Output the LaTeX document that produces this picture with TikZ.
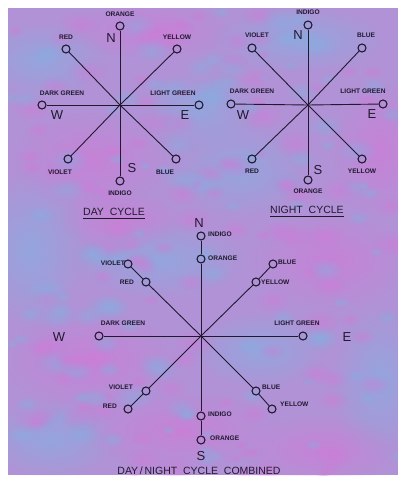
\documentclass[tikz,border=0pt]{standalone}
\usepackage{fontspec}
\setsansfont{Liberation Sans}
\usetikzlibrary{fadings}
\definecolor{ink}{RGB}{32,26,48}
\definecolor{lilac}{RGB}{178,146,214}
\definecolor{pinkish}{RGB}{212,120,214}
\definecolor{bluish}{RGB}{128,178,226}
\tikzfading[name=blotfade,inner color=transparent!0,outer color=transparent!100]

\begin{document}
\begin{tikzpicture}[x=1pt,y=-1pt,font=\sffamily]
  \tikzset{
    dot/.style={circle,draw=ink,line width=1.1pt,inner sep=0pt,minimum size=8pt},
    lbl/.style={text=ink,inner sep=0pt,font=\sffamily\bfseries\fontsize{6.6}{7}\selectfont},
    pole/.style={text=ink,inner sep=0pt,font=\sffamily\fontsize{13}{14}\selectfont},
    ttl/.style={text=ink,inner sep=0pt,font=\sffamily\fontsize{10.5}{12}\selectfont},
    leg/.style={draw=ink,line width=0.9pt},
    blot/.style={path fading=blotfade,opacity=0.6}
  }
  \useasboundingbox (0,0) rectangle (403,477);
  \fill[white] (0,0) rectangle (403,477);
  % mottled paper
  \fill[lilac] (8,8) rectangle (398,475);
  \begin{scope}
    \clip (8,8) rectangle (398,475);
    \foreach \px/\py/\rx/\ry/\col in {
        40/60/70/40/bluish, 150/30/80/30/pinkish, 300/40/90/35/bluish,
        380/150/50/70/pinkish, 90/160/80/50/pinkish, 240/170/70/50/bluish,
        30/250/60/80/bluish, 160/260/90/40/bluish, 330/260/80/50/pinkish,
        90/360/90/50/pinkish, 260/350/70/40/bluish, 380/380/50/80/bluish,
        50/440/70/40/bluish, 180/430/100/40/pinkish, 320/450/80/35/pinkish,
        200/110/60/40/bluish, 120/220/60/30/pinkish}
      \fill[\col,blot] (\px,\py) ellipse [x radius=\rx pt,y radius=\ry pt];
    \pgfmathsetseed{7}
    \foreach \k in {1,...,220} {
      \pgfmathsetmacro\px{8+390*rnd}
      \pgfmathsetmacro\py{8+467*rnd}
      \pgfmathsetmacro\rr{4+10*rnd}
      \pgfmathsetmacro\pick{rnd}
      \ifdim\pick pt<0.5pt \def\col{pinkish}\else\def\col{bluish}\fi
      \fill[\col,path fading=blotfade,opacity=0.45] (\px,\py) ellipse [x radius=1.6*\rr pt,y radius=\rr pt];
    }
  \end{scope}

  % day cycle
  \coordinate (dc) at (120,105);
  \node[dot] (dn)  at (120,26)  {};
  \node[dot] (dnw) at (66,49)   {};
  \node[dot] (dne) at (177,49)  {};
  \node[dot] (dw)  at (42,105)  {};
  \node[dot] (de)  at (199,105) {};
  \node[dot] (dsw) at (68,159)  {};
  \node[dot] (dse) at (176,159) {};
  \node[dot] (ds)  at (120,181) {};
  \node[lbl] (dnl)  at (120,14)  {ORANGE};
  \node[lbl] (dnwl) at (66,37)   {RED};
  \node[lbl] (dnel) at (177,37)  {YELLOW};
  \node[lbl] (dwl)  at (62,93)   {DARK GREEN};
  \node[lbl] (del)  at (173,93)  {LIGHT GREEN};
  \node[lbl] (dswl) at (60,172)  {VIOLET};
  \node[lbl] (dsel) at (165,172) {BLUE};
  \node[lbl] (dsl)  at (120,193) {INDIGO};
  \node[pole] (dN) at (111,38)  {N};
  \node[pole] (dW) at (57,115)  {W};
  \node[pole] (dE) at (185,115) {E};
  \node[pole] (dS) at (132,168) {S};
  \node[ttl] (dt) at (114,212) {DAY\ \ CYCLE};
  \draw[leg] ([yshift=-2.5pt]dt.south west) -- ([yshift=-2.5pt]dt.south east);
  \draw[leg] (dc) -- (dn);
  \draw[leg] (dc) -- (dnw);
  \draw[leg] (dc) -- (dne);
  \draw[leg] (dc) -- (dw);
  \draw[leg] (dc) -- (de);
  \draw[leg] (dc) -- (dsw);
  \draw[leg] (dc) -- (dse);
  \draw[leg] (dc) -- (ds);

  % night cycle
  \coordinate (nc) at (308,105);
  \node[dot] (nn)  at (308,25)  {};
  \node[dot] (nnw) at (252,48)  {};
  \node[dot] (nne) at (362,48)  {};
  \node[dot] (nw)  at (231,104) {};
  \node[dot] (ne)  at (383,104) {};
  \node[dot] (nsw) at (252,159) {};
  \node[dot] (nse) at (362,159) {};
  \node[dot] (ns)  at (308,180) {};
  \node[lbl] (nnl)  at (308,12)  {INDIGO};
  \node[lbl] (nnwl) at (257,35)  {VIOLET};
  \node[lbl] (nnel) at (366,35)  {BLUE};
  \node[lbl] (nwl)  at (252,91)  {DARK GREEN};
  \node[lbl] (nel)  at (363,91)  {LIGHT GREEN};
  \node[lbl] (nswl) at (252,171) {RED};
  \node[lbl] (nsel) at (362,171) {YELLOW};
  \node[lbl] (nsl)  at (308,191) {ORANGE};
  \node[pole] (nN) at (298,35)  {N};
  \node[pole] (nW) at (243,115) {W};
  \node[pole] (nE) at (372,114) {E};
  \node[pole] (nS) at (318,170) {S};
  \node[ttl] (nt) at (307,210) {NIGHT\ \ CYCLE};
  \draw[leg] ([yshift=-2.5pt]nt.south west) -- ([yshift=-2.5pt]nt.south east);
  \draw[leg] (nc) -- (nn);
  \draw[leg] (nc) -- (nnw);
  \draw[leg] (nc) -- (nne);
  \draw[leg] (nc) -- (nw);
  \draw[leg] (nc) -- (ne);
  \draw[leg] (nc) -- (nsw);
  \draw[leg] (nc) -- (nse);
  \draw[leg] (nc) -- (ns);

  % combined
  \coordinate (cc) at (201,336);
  \node[dot] (cni)  at (201,259) {};
  \node[dot] (cno)  at (201,236) {};
  \node[dot] (cnwi) at (146,282) {};
  \node[dot] (cnwo) at (128,264) {};
  \node[dot] (cnei) at (256,282) {};
  \node[dot] (cneo) at (273,264) {};
  \node[dot] (cw)   at (99,336)  {};
  \node[dot] (ce)   at (303,336) {};
  \node[dot] (cswi) at (146,391) {};
  \node[dot] (cswo) at (128,409) {};
  \node[dot] (csei) at (256,391) {};
  \node[dot] (cseo) at (272,409) {};
  \node[dot] (csi)  at (201,416) {};
  \node[dot] (cso)  at (201,440) {};
  \node[lbl,anchor=west] (cnil)  at (208,258) {ORANGE};
  \node[lbl,anchor=west] (cnol)  at (208,234) {INDIGO};
  \node[lbl,anchor=east] (cnwil) at (134,282) {RED};
  \node[lbl,anchor=east] (cnwol) at (125,263) {VIOLET};
  \node[lbl,anchor=west] (cneil) at (261,282) {YELLOW};
  \node[lbl,anchor=west] (cneol) at (278,262) {BLUE};
  \node[lbl] (cwl) at (123,323) {DARK GREEN};
  \node[lbl] (cel) at (297,323) {LIGHT GREEN};
  \node[lbl,anchor=east] (cswil) at (133,387) {VIOLET};
  \node[lbl,anchor=east] (cswol) at (117,406) {RED};
  \node[lbl,anchor=west] (cseil) at (262,387) {BLUE};
  \node[lbl,anchor=west] (cseol) at (280,404) {YELLOW};
  \node[lbl,anchor=west] (csil)  at (208,414) {INDIGO};
  \node[lbl,anchor=west] (csol)  at (210,438) {ORANGE};
  \node[pole] (cN) at (199,223) {N};
  \node[pole] (cW) at (59,337)  {W};
  \node[pole] (cE) at (347,337) {E};
  \node[pole] (cS) at (201,456) {S};
  \node[ttl] (ct) at (199,471) {DAY\,/\,NIGHT\ \ CYCLE\ \ COMBINED};
  \draw[leg] (cc) -- (cni);
  \draw[leg] (cni) -- (cno);
  \draw[leg] (cc) -- (cnwi);
  \draw[leg] (cnwi) -- (cnwo);
  \draw[leg] (cc) -- (cnei);
  \draw[leg] (cnei) -- (cneo);
  \draw[leg] (cc) -- (cw);
  \draw[leg] (cc) -- (ce);
  \draw[leg] (cc) -- (cswi);
  \draw[leg] (cswi) -- (cswo);
  \draw[leg] (cc) -- (csei);
  \draw[leg] (csei) -- (cseo);
  \draw[leg] (cc) -- (csi);
  \draw[leg] (csi) -- (cso);
\end{tikzpicture}
\end{document}
